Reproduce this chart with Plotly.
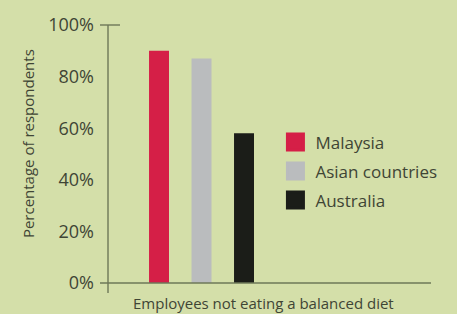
import plotly.graph_objects as go

# ---- data ----
category = ["Employees not eating a balanced diet"]
series_names = ["Malaysia", "Asian countries", "Australia"]
series_values = [[90], [87], [58]]
series_colors = ["#d51f47", "#babcbe", "#1b1d18"]
tick_values = [0, 20, 40, 60, 80, 100]
tick_labels = ["0%", "20%", "40%", "60%", "80%", "100%"]
y_title = "Percentage of respondents"

BG = "#d4dfa9"
TXT = "#3f4535"
AX = "#6e7858"
FONT = "Open Sans"

fig = go.Figure()
for i, (name, vals, col) in enumerate(zip(series_names, series_values, series_colors)):
    fig.add_trace(go.Bar(x=category, y=vals, name=name, marker_color=col,
                         marker_line_width=0, showlegend=False,
                         legendgroup=f"g{i}"))
for i, (name, col) in enumerate(zip(series_names, series_colors)):
    fig.add_trace(go.Scatter(x=[None], y=[None], mode="markers", name=name,
                             marker=dict(symbol="square", size=16, color=col,
                                         line=dict(color=col, width=3)),
                             legendgroup=f"g{i}", showlegend=True))

fig.update_layout(
    width=457, height=314,
    margin=dict(l=100, r=26, t=22, b=31),
    paper_bgcolor=BG, plot_bgcolor=BG,
    font=dict(family=FONT, color=TXT, size=17),
    barmode="group", bargap=0.2, bargroupgap=0.53,
    showlegend=True,
    legend=dict(x=0.53, y=0.615, xanchor="left", yanchor="top",
                bgcolor="rgba(0,0,0,0)", font=dict(size=17, color=TXT),
                tracegroupgap=4, itemclick=False, itemdoubleclick=False),
    xaxis=dict(type="category", range=[-0.637, 1.44], showticklabels=False,
               showgrid=False, zeroline=False, showline=False, ticks=""),
    yaxis=dict(range=[0, 100], tickvals=tick_values, ticktext=tick_labels,
               showgrid=False, zeroline=False, showline=False, ticks="",
               ticklabelstandoff=5, tickfont=dict(size=18, color=TXT)),
    shapes=[
        dict(type="line", xref="x domain", yref="y domain", x0=0, x1=1, y0=0, y1=0,
             line=dict(color=AX, width=1.6)),
        dict(type="line", xref="x domain", yref="y domain", x0=0, x1=20/331, y0=1, y1=1,
             line=dict(color=AX, width=1.4)),
        dict(type="line", xref="x domain", yref="y domain", x0=8/331, x1=8/331,
             y0=1, y1=-10/261, line=dict(color=AX, width=1.4)),
    ],
    annotations=[
        dict(text=y_title, xref="paper", yref="paper", x=-72/331, y=(283-142.5)/261,
             textangle=-90, showarrow=False, xanchor="center", yanchor="middle",
             font=dict(size=15, color=TXT)),
        dict(text=category[0], xref="paper", yref="paper", x=(263-100)/331,
             y=-(303-283)/261, showarrow=False, xanchor="center", yanchor="middle",
             font=dict(size=15, color=TXT)),
    ],
)

fig.write_html("out.html",
               config={"displayModeBar": False},
               post_script="document.body.style.margin='0';"
                           "document.body.style.background='" + BG + "';")
